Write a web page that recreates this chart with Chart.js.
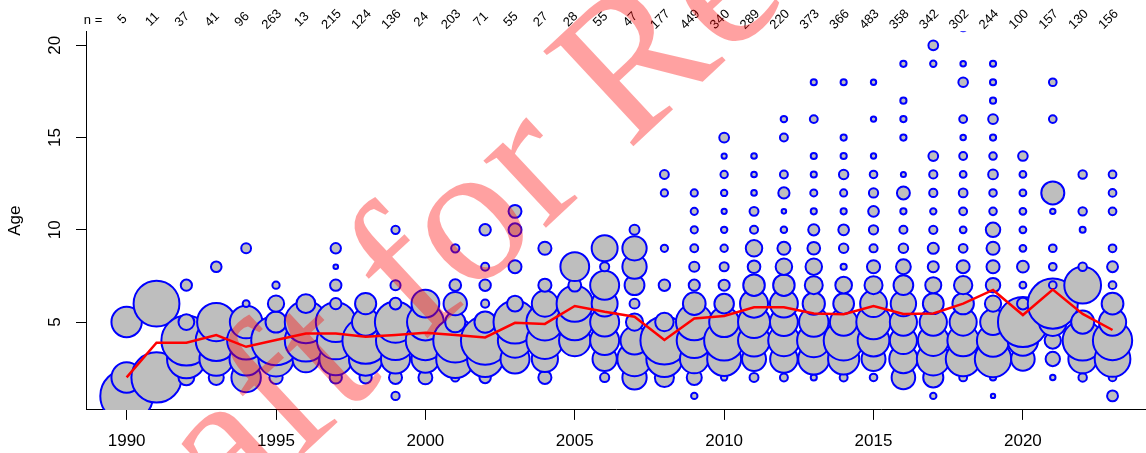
<!DOCTYPE html>
<html>
<head>
<meta charset="utf-8">
<script src="https://cdn.jsdelivr.net/npm/chart.js@4.4.1/dist/chart.umd.min.js"></script>
<style>
  html, body { margin: 0; padding: 0; background: #ffffff; overflow: hidden; }
  canvas { display: block; }
</style>
</head>
<body>
<canvas id="ageChart" width="1146" height="453"></canvas>
<script>
// Sampling years
const years = [1990, 1991, 1992, 1993, 1994, 1995, 1996, 1997, 1998, 1999,
               2000, 2001, 2002, 2003, 2004, 2005, 2006, 2007, 2008, 2009,
               2010, 2011, 2012, 2013, 2014, 2015, 2016, 2017, 2018, 2019,
               2020, 2021, 2022, 2023];

// Number of aged fish per year (printed along the top)
const sampleSizes = [5, 11, 37, 41, 96, 263, 13, 215, 124, 136,
                     24, 203, 71, 55, 27, 28, 55, 47, 177, 449,
                     340, 289, 220, 373, 366, 483, 358, 342, 302, 244,
                     100, 157, 130, 156];

// Mean age per year (red line)
const meanAge = [2.0, 3.88, 3.88, 4.3, 3.66, 4.03, 4.38, 4.38, 4.2, 4.3,
                 4.42, 4.3, 4.17, 4.96, 4.9, 5.87, 5.56, 5.29, 4.03, 5.2,
                 5.33, 5.8, 5.8, 5.47, 5.42, 5.87, 5.44, 5.47, 6.0, 6.74,
                 5.38, 6.76, 5.44, 4.57];

// Fish counted at ages 1, 2, 3, ... 21 in each year (one row per year)
const ageCounts = [
  [3, 1, 0, 0, 1],                                                        // 1990
  [0, 6, 0, 0, 0, 5],                                                     // 1991
  [0, 2, 12, 20, 2, 0, 1],                                                // 1992
  [0, 2, 10, 15, 13, 0, 0, 1],                                            // 1993
  [0, 18, 23, 30, 22, 1, 0, 0, 2],                                        // 1994
  [0, 10, 70, 140, 25, 15, 3],                                            // 1995
  [0, 0, 2, 5, 5, 1],                                                     // 1996
  [0, 7, 50, 66, 74, 6, 6, 1, 5],                                         // 1997
  [0, 4, 30, 58, 20, 12],                                                 // 1998
  [2, 5, 25, 45, 50, 4, 3, 0, 0, 2],                                      // 1999
  [0, 1, 4, 8, 7, 4],                                                     // 2000
  [0, 3, 64, 85, 18, 24, 6, 0, 3],                                        // 2001
  [0, 2, 20, 36, 7, 1, 2, 1, 0, 2],                                       // 2002
  [0, 0, 10, 14, 22, 3, 0, 2, 0, 2, 2],                                   // 2003
  [0, 1, 4, 8, 8, 4, 1, 0, 1],                                            // 2004
  [0, 0, 0, 6, 8, 8, 1, 5],                                               // 2005
  [0, 1, 7, 10, 10, 8, 10, 1, 8],                                         // 2006
  [0, 6, 12, 8, 3, 1, 4, 6, 6, 1],                                        // 2007
  [0, 14, 50, 88, 13, 0, 5, 0, 2, 0, 0, 2, 3],                            // 2008
  [4, 22, 80, 120, 130, 50, 12, 10, 6, 5, 5, 5],                          // 2009
  [0, 3, 85, 118, 66, 28, 9, 6, 4, 3, 2, 3, 4, 2, 7],                     // 2010
  [0, 5, 36, 64, 64, 49, 29, 10, 17, 4, 5, 2, 2, 2],                      // 2011
  [0, 3, 36, 47, 37, 37, 22, 13, 8, 2, 1, 6, 3, 0, 3, 2],                 // 2012
  [0, 3, 78, 90, 70, 40, 26, 22, 13, 10, 3, 4, 3, 3, 0, 5, 0, 3],         // 2013
  [0, 5, 77, 126, 60, 34, 22, 3, 7, 9, 3, 4, 7, 3, 3, 0, 0, 3],           // 2014
  [0, 6, 60, 105, 124, 75, 34, 18, 7, 9, 12, 9, 6, 3, 0, 3, 0, 3],        // 2015
  [0, 43, 62, 57, 57, 50, 30, 17, 7, 5, 3, 13, 2, 0, 3, 3, 3, 0, 3],      // 2016
  [3, 30, 80, 70, 55, 32, 19, 9, 9, 5, 3, 5, 5, 7, 0, 0, 0, 0, 3, 7],     // 2017
  [0, 4, 79, 65, 48, 30, 22, 11, 5, 3, 4, 5, 3, 4, 2, 4, 0, 6, 2, 0, 5],  // 2018
  [1, 2, 70, 55, 35, 14, 11, 9, 9, 11, 3, 3, 5, 3, 2, 5, 2, 2, 2],        // 2019
  [0, 0, 12, 20, 54, 3, 1, 3, 1, 1, 1, 1, 1, 2],                          // 2020
  [0, 1, 7, 9, 26, 85, 2, 2, 2, 0, 1, 18, 0, 0, 0, 2, 0, 2],              // 2021
  [0, 2, 23, 45, 15, 0, 38, 2, 0, 1, 2, 0, 2],                            // 2022
  [4, 2, 43, 52, 25, 16, 2, 4, 2, 0, 2, 2, 2]                             // 2023
];

// Axis tick values
const xTicks = [1990, 1995, 2000, 2005, 2010, 2015, 2020];
const yTicks = [5, 10, 15, 20];

// Bubble area is proportional to the share of a year's fish at each age
const BUBBLE_SCALE = 34;
const FONT = '"Liberation Sans", Arial, Helvetica, sans-serif';

const bubblePoints = [];
years.forEach((yr, i) => {
  ageCounts[i].forEach((count, k) => {
    if (count > 0) {
      bubblePoints.push({
        x: yr,
        y: k + 1,
        r: BUBBLE_SCALE * Math.sqrt(count / sampleSizes[i])
      });
    }
  });
});

const meanPoints = years.map((yr, i) => ({ x: yr, y: meanAge[i] }));

// Sample sizes written above each year, plus the "n =" lead-in
const sampleSizeLabels = {
  id: 'sampleSizeLabels',
  afterDraw(chart) {
    const ctx = chart.ctx;
    const xs = chart.scales.x;
    ctx.save();
    ctx.fillStyle = '#000000';
    ctx.font = '13px ' + FONT;
    ctx.textAlign = 'center';
    ctx.textBaseline = 'middle';
    ctx.fillText('n =', 93, 20);
    years.forEach((yr, i) => {
      ctx.save();
      ctx.translate(xs.getPixelForValue(yr) - 4, 19.5);
      ctx.rotate(-Math.PI / 4);
      ctx.fillText(String(sampleSizes[i]), 0, 0);
      ctx.restore();
    });
    ctx.restore();
  }
};

// Diagonal review stamp across the figure
const reviewStamp = {
  id: 'reviewStamp',
  afterDraw(chart) {
    const ctx = chart.ctx;
    ctx.save();
    ctx.fillStyle = 'rgba(255, 0, 0, 0.37)';
    ctx.font = '200px "Liberation Serif", "Times New Roman", serif';
    ctx.textAlign = 'left';
    ctx.textBaseline = 'alphabetic';
    ctx.translate(76, 666);
    ctx.rotate(-43 * Math.PI / 180);
    ctx.fillText('Draft for Review', 0, 0);
    ctx.restore();
  }
};

new Chart(document.getElementById('ageChart'), {
  type: 'bubble',
  data: {
    datasets: [
      {
        type: 'line',
        label: 'Mean age',
        data: meanPoints,
        borderColor: '#FF0000',
        borderWidth: 2.5,
        pointRadius: 0,
        tension: 0,
        fill: false,
        order: 0
      },
      {
        type: 'bubble',
        label: 'Age composition',
        data: bubblePoints,
        backgroundColor: '#BEBEBE',
        borderColor: '#0000FF',
        borderWidth: 2,
        clip: 0,
        order: 1
      }
    ]
  },
  options: {
    responsive: false,
    animation: false,
    devicePixelRatio: 1,
    events: [],
    layout: { autoPadding: false, padding: { top: 31.3, right: 0, bottom: 0, left: 0 } },
    plugins: {
      legend: { display: false },
      tooltip: { enabled: false }
    },
    scales: {
      x: {
        type: 'linear',
        min: 1988.64,
        max: 2024.12,
        afterBuildTicks: s => { s.ticks = xTicks.map(v => ({ value: v })); },
        afterFit: s => {
          s.height = 43.1;
          s.paddingLeft = 0;
          s.paddingRight = 0;
        },
        grid: { display: true, drawOnChartArea: false, drawTicks: true, tickLength: 10, tickColor: '#000000', tickWidth: 1 },
        border: { display: true, color: '#000000', width: 1 },
        ticks: {
          color: '#000000',
          font: { family: FONT, size: 17 },
          padding: 11,
          minRotation: 0,
          maxRotation: 0,
          callback: v => String(v)
        }
      },
      y: {
        type: 'linear',
        min: 0.24,
        max: 20.76,
        afterBuildTicks: s => { s.ticks = yTicks.map(v => ({ value: v })); },
        afterFit: s => { s.width = 86; },
        grid: { display: true, drawOnChartArea: false, drawTicks: true, tickLength: 10, tickColor: '#000000', tickWidth: 1 },
        border: { display: true, color: '#000000', width: 1 },
        ticks: {
          color: '#000000',
          font: { family: FONT, size: 17 },
          padding: 11,
          minRotation: 90,
          maxRotation: 90,
          crossAlign: 'center',
          callback: v => String(v)
        },
        title: {
          display: true,
          text: 'Age',
          color: '#000000',
          font: { family: FONT, size: 17 },
          padding: { top: 5, bottom: 0 }
        }
      }
    }
  },
  plugins: [sampleSizeLabels, reviewStamp]
});
</script>
</body>
</html>
